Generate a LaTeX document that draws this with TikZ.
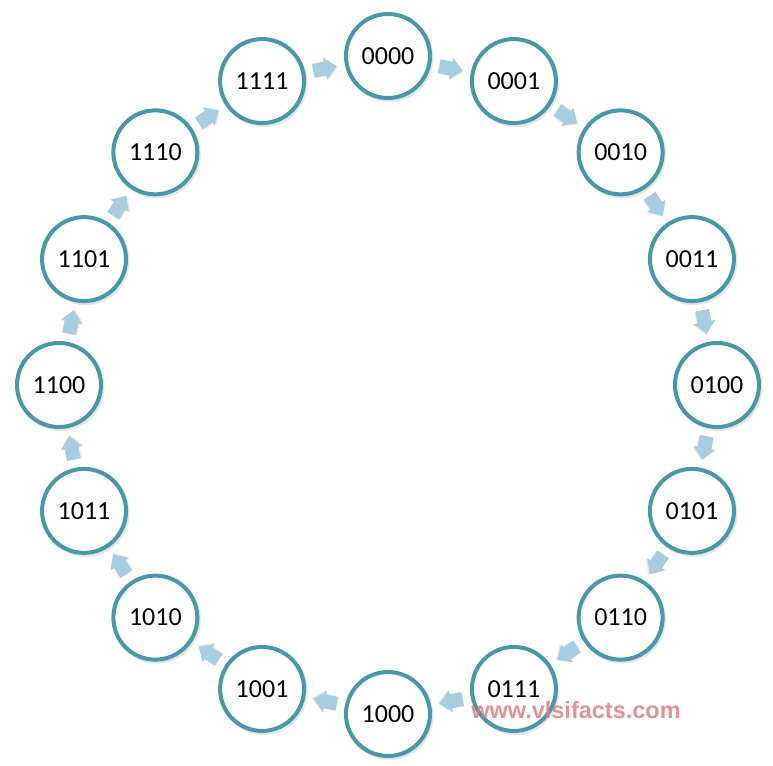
\documentclass[tikz,border=0pt]{standalone}
\usepackage{fontspec}
\setmainfont{Carlito}
\newfontfamily\wmfont{Liberation Sans}
\usetikzlibrary{calc}
\definecolor{ringcol}{RGB}{72,152,172}
\definecolor{arrowcol}{RGB}{168,204,224}
\definecolor{wmcol}{RGB}{222,128,128}
\tikzset{
  state/.style={circle, draw=ringcol, line width=4pt, fill=white, minimum size=84pt, inner sep=0pt, font=\fontsize{26}{29}\selectfont},
  stshadow/.style={circle, fill=black!10, minimum size=88pt, inner sep=0pt},
  blockarrow/.style={fill=arrowcol, draw=none},
}
\begin{document}
\begin{tikzpicture}
\useasboundingbox (-388pt,-380pt) rectangle (385pt,385pt);
\fill[white] (-388pt,-380pt) rectangle (385pt,385pt);
\foreach \lab [count=\k from 0] in {0000,0001,0010,0011,0100,0101,0110,0111,1000,1001,1010,1011,1100,1101,1110,1111}{
  \pgfmathsetmacro{\ang}{90-22.5*\k}
  \node[stshadow] (sh\k) at ($(\ang:329pt)+(1.5pt,-2pt)$) {};
}
\foreach \lab [count=\k from 0] in {0000,0001,0010,0011,0100,0101,0110,0111,1000,1001,1010,1011,1100,1101,1110,1111}{
  \pgfmathsetmacro{\ang}{90-22.5*\k}
  \node[state] (n\k) at (\ang:329pt) {\lab};
}
\foreach \k in {0,...,15}{
  \pgfmathsetmacro{\aang}{90-22.5*(\k+0.5)}
  \pgfmathsetmacro{\rot}{-22.5*(\k+0.5)}
  \coordinate (a\k) at (\aang:322.7pt);
  \begin{scope}[shift={(a\k)}, rotate=\rot]
    \fill[black!8] (-11pt,-8pt) -- (1pt,-8pt) -- (1pt,-12pt) -- (13pt,-1pt) -- (1pt,10pt) -- (1pt,6pt) -- (-11pt,6pt) -- cycle;
    \fill[blockarrow] (-12pt,-7pt) -- (0pt,-7pt) -- (0pt,-11pt) -- (12pt,0pt) -- (0pt,11pt) -- (0pt,7pt) -- (-12pt,7pt) -- cycle;
  \end{scope}
}
\node[text=wmcol, opacity=0.85, font=\wmfont\bfseries\fontsize{23.5}{26}\selectfont, inner sep=0pt] (wm) at (188pt,-325pt) {www.vlsifacts.com};
\end{tikzpicture}
\end{document}
